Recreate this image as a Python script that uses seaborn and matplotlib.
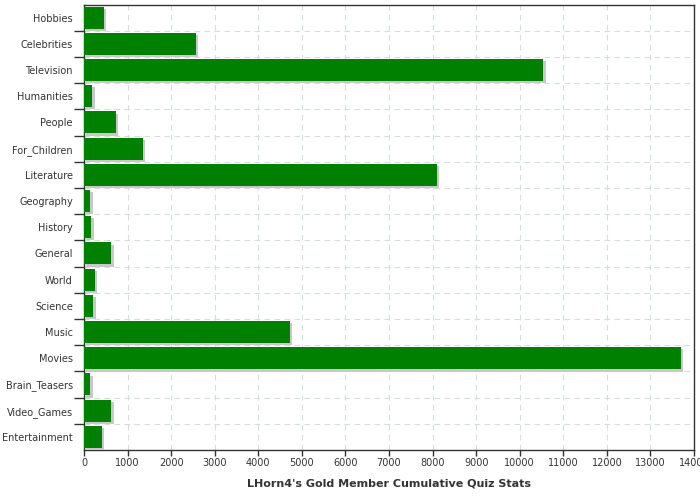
import matplotlib
matplotlib.use("Agg")
import matplotlib.pyplot as plt
import matplotlib.patheffects as pe
import seaborn as sns
import pandas as pd
import numpy as np

categories = ["Hobbies", "Celebrities", "Television", "Humanities", "People",
              "For_Children", "Literature", "Geography", "History", "General",
              "World", "Science", "Music", "Movies", "Brain_Teasers",
              "Video_Games", "Entertainment"]
values = [448, 2560, 10545, 195, 723, 1343, 8105, 149, 172, 631,
          241, 218, 4718, 13692, 149, 631, 402]
x_ticks = list(range(0, 14001, 1000))
title = "LHorn4's Gold Member Cumulative Quiz Stats"

df = pd.DataFrame({"category": categories, "value": values})

sns.set_theme(style="white")
plt.rcParams["font.family"] = ["DejaVu Sans"]

fig = plt.figure(figsize=(7, 5), dpi=100)
ax = fig.add_axes([0.12, 0.1, 0.8714, 0.891])

sns.barplot(data=df, y="category", x="value", orient="h", color="#008000",
            saturation=1, width=0.84, ax=ax, zorder=3)
for p in ax.patches:
    p.set_edgecolor("none")
    p.set_path_effects([pe.SimplePatchShadow(offset=(1.6, -1.6),
                                             shadow_rgbFace="#c8c8c8", alpha=1.0),
                        pe.Normal()])

n = len(categories)
ax.set_ylim(n - 0.5, -0.5)
ax.set_xlim(0, 14000)
ax.set_xticks(x_ticks)
ax.set_xticklabels([str(t) for t in x_ticks])
ax.set_yticks(np.arange(n - 1) + 0.5, minor=True)
ax.set_yticks(np.arange(n))
ax.set_yticklabels(categories)

ax.tick_params(axis="y", which="major", length=0, pad=8, labelsize=7, labelcolor="#333333")
ax.tick_params(axis="y", which="minor", length=7, width=1, color="#333333", direction="out", left=True)
ax.tick_params(axis="x", which="major", length=4, width=1, color="#333333", direction="out",
               bottom=True, labelsize=7, labelcolor="#333333", pad=2)

ax.grid(True, axis="x", which="major", color="#d6dcdf", linestyle=(0, (5, 4)), linewidth=0.8, zorder=0)
ax.grid(True, axis="y", which="minor", color="#d6dcdf", linestyle=(0, (5, 4)), linewidth=0.8, zorder=0)
ax.set_axisbelow(True)

for s in ax.spines.values():
    s.set_color("#333333")
    s.set_linewidth(1.0)
    s.set_visible(True)

ax.set_ylabel("")
ax.set_xlabel(title, fontsize=8, fontweight="bold", color="#333333", labelpad=7)

fig.savefig("out.png", dpi=100)
